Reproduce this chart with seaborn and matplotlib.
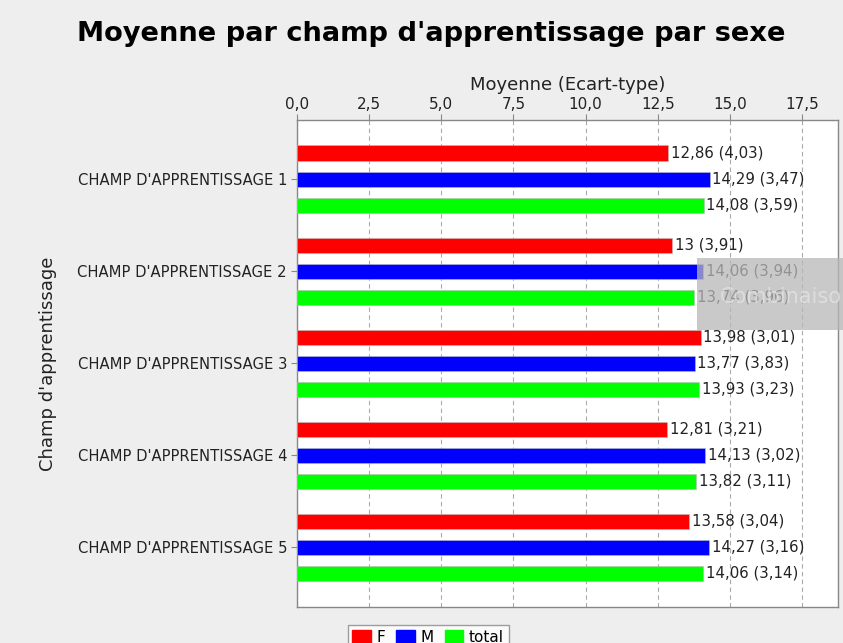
import pandas as pd
import seaborn as sns
import matplotlib.pyplot as plt
from matplotlib.patches import Rectangle

champs = ["CHAMP D'APPRENTISSAGE 1", "CHAMP D'APPRENTISSAGE 2", "CHAMP D'APPRENTISSAGE 3",
          "CHAMP D'APPRENTISSAGE 4", "CHAMP D'APPRENTISSAGE 5"]
sexes = ["F", "M", "total"]
moy_F = [12.86, 13.0, 13.98, 12.81, 13.58]
moy_M = [14.29, 14.06, 13.77, 14.13, 14.27]
moy_total = [14.08, 13.74, 13.93, 13.82, 14.06]
et_F = [4.03, 3.91, 3.01, 3.21, 3.04]
et_M = [3.47, 3.94, 3.83, 3.02, 3.16]
et_total = [3.59, 3.96, 3.23, 3.11, 3.14]
couleurs = ["#ff0000", "#0000ff", "#00ff00"]

df = pd.DataFrame({
    "Champ": champs * 3,
    "Sexe": [s for s in sexes for _ in champs],
    "Moyenne": moy_F + moy_M + moy_total,
    "ET": et_F + et_M + et_total,
})

def fmt(v):
    return f"{v:g}".replace(".", ",")

sns.set_style("white")
plt.rcParams["font.family"] = ["DejaVu Sans"]
plt.rcParams["text.color"] = "black"

fig = plt.figure(figsize=(8.43, 6.43), dpi=100, facecolor="#eeeeee")
ax = fig.add_axes([0.352, 0.056, 0.642, 0.757])
ax.set_facecolor("white")

sns.barplot(data=df, y="Champ", x="Moyenne", hue="Sexe", orient="h",
            palette=couleurs, saturation=1, width=0.85, gap=0.42,
            edgecolor="#bbbbbb", linewidth=0.4, ax=ax, legend=False, zorder=3)

# value labels "moyenne (ecart-type)"
for cont, sexe in zip(ax.containers, sexes):
    sub = df[df["Sexe"] == sexe]
    labels = [f"{fmt(m)} ({fmt(e)})" for m, e in zip(sub["Moyenne"], sub["ET"])]
    ax.bar_label(cont, labels=labels, padding=2, fontsize=10.8, color="#222222")

ax.set_xlim(0, 18.73)
ax.set_ylim(4.65, -0.64)
ax.set_xticks([0, 2.5, 5, 7.5, 10, 12.5, 15, 17.5])
ax.set_xticklabels(["0,0", "2,5", "5,0", "7,5", "10,0", "12,5", "15,0", "17,5"])
ax.xaxis.tick_top()
ax.xaxis.set_label_position("top")
ax.tick_params(axis="x", top=True, length=4, color="#888888", labelsize=11,
               labelcolor="#222222", pad=2)
ax.tick_params(axis="y", left=True, length=4, color="#888888", labelsize=10.6,
               labelcolor="#222222", pad=3)
ax.grid(axis="x", linestyle=(0, (4, 3)), color="#aaaaaa", linewidth=0.8, zorder=0)
for sp in ax.spines.values():
    sp.set_color("#888888")
    sp.set_linewidth(1)
ax.set_xlabel("Moyenne (Ecart-type)", fontsize=13, labelpad=5, color="#222222")
ax.set_ylabel("Champ d'apprentissage", fontsize=13, color="#222222")
ax.yaxis.set_label_coords(-0.443, 0.5)

fig.suptitle("Moyenne par champ d'apprentissage par sexe", fontsize=19.6,
             fontweight="bold", color="black", x=0.512, y=0.968)

# legend under the chart
handles = [Rectangle((0, 0), 1, 1, color=c) for c in couleurs]
leg = fig.legend(handles, sexes, loc="upper center", bbox_to_anchor=(0.508, 0.04),
                 ncol=3, frameon=True, fancybox=False, fontsize=11,
                 handlelength=1.2, handleheight=1.0, handletextpad=0.4,
                 columnspacing=0.7, borderpad=0.3)
leg.get_frame().set_edgecolor("#888888")
leg.get_frame().set_facecolor("white")

# tooltip overlay
fig.patches.append(Rectangle((697 / 843, 1 - 330 / 643), 146 / 843, 72 / 643,
                             transform=fig.transFigure, facecolor="#b8b8b8",
                             alpha=0.75, edgecolor="none", zorder=10))
fig.text(720 / 843, 1 - 297 / 643, "Combinaison", fontsize=15, color="#e6e6e6",
         alpha=0.7, va="center", zorder=11)

fig.savefig("out.png", dpi=100, facecolor=fig.get_facecolor())
